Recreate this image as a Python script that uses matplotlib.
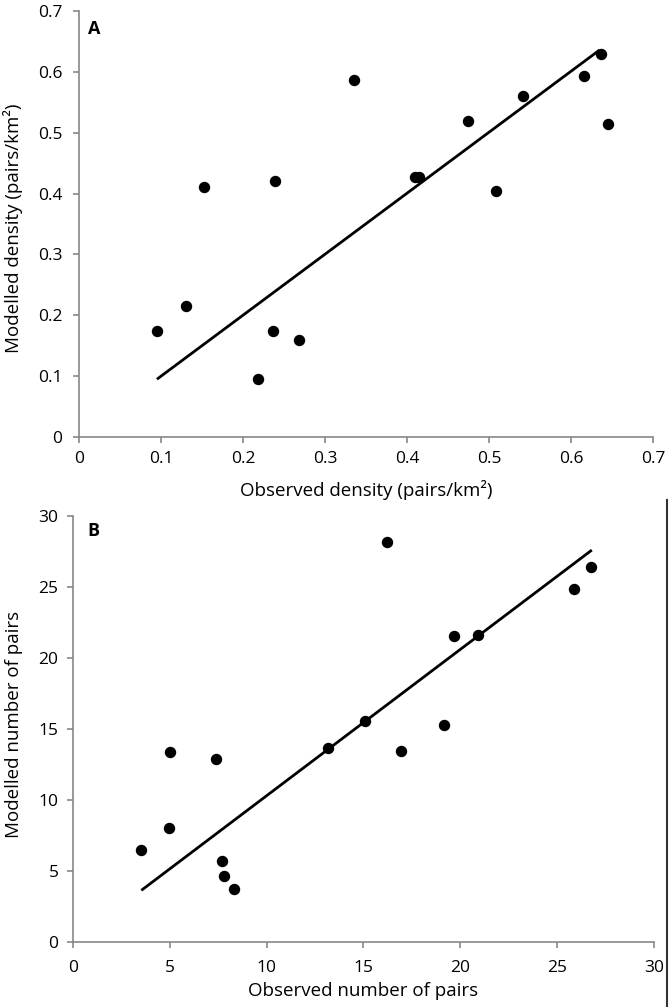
# Observed vs modelled density / number of pairs (panels A and B)

import matplotlib.pyplot as plt
from matplotlib.lines import Line2D

plt.rcParams['font.family'] = ['Open Sans', 'DejaVu Sans']

# Panel A: density (pairs/km2)
obs_density = [0.095, 0.131, 0.153, 0.218, 0.237, 0.239, 0.268, 0.335,
               0.410, 0.415, 0.474, 0.509, 0.541, 0.616, 0.636, 0.645]
mod_density = [0.174, 0.215, 0.410, 0.096, 0.175, 0.421, 0.160, 0.587,
               0.428, 0.428, 0.519, 0.404, 0.560, 0.593, 0.629, 0.514]
fit_a_x = [0.095, 0.635]
fit_a_y = [0.095, 0.636]

# Panel B: number of pairs
obs_pairs = [3.53, 4.96, 5.01, 7.37, 7.68, 7.80, 8.33, 13.15,
             15.09, 16.19, 16.93, 19.17, 19.69, 20.92, 25.85, 26.76]
mod_pairs = [6.48, 8.05, 13.40, 12.87, 5.70, 4.67, 3.73, 13.66,
             15.56, 28.19, 13.45, 15.28, 21.55, 21.64, 24.84, 26.41]
fit_b_x = [3.53, 26.79]
fit_b_y = [3.64, 27.60]

ticks_a = [0, 0.1, 0.2, 0.3, 0.4, 0.5, 0.6, 0.7]
tick_labels_a = ['0', '0.1', '0.2', '0.3', '0.4', '0.5', '0.6', '0.7']
ticks_b = [0, 5, 10, 15, 20, 25, 30]

AXIS_GREY = '#878787'

fig = plt.figure(figsize=(6.72, 10.07), dpi=100)
ax_a = fig.add_axes([0.1176, 0.5660, 0.8541, 0.4231])
ax_b = fig.add_axes([0.1086, 0.0645, 0.8646, 0.4231])


def style_axes(ax, xpad, ypad):
    for side in ['top', 'right']:
        ax.spines[side].set_visible(False)
    for side in ['left', 'bottom']:
        ax.spines[side].set_color(AXIS_GREY)
        ax.spines[side].set_linewidth(1.2)
    ax.tick_params(direction='out', length=4, width=1.2, color=AXIS_GREY,
                   labelsize=12.5, labelcolor='black')
    ax.tick_params(axis='x', pad=xpad)
    ax.tick_params(axis='y', pad=ypad)


# Panel A
ax_a.plot(fit_a_x, fit_a_y, color='black', lw=2.0, solid_capstyle='butt')
ax_a.plot(obs_density, mod_density, 'o', color='black', markersize=7.2)
ax_a.set_xlim(0, 0.7)
ax_a.set_ylim(0, 0.7)
ax_a.set_xticks(ticks_a, tick_labels_a)
ax_a.set_yticks(ticks_a, tick_labels_a)
style_axes(ax_a, 6, 8)
ax_a.set_xlabel('Observed density (pairs/km²)', fontsize=13.5)
ax_a.set_ylabel('Modelled density (pairs/km²)', fontsize=13.5)
ax_a.xaxis.set_label_coords(0.5, -0.101)
ax_a.yaxis.set_label_coords(-0.097, 0.49)
ax_a.text(0.016, 0.979, 'A', transform=ax_a.transAxes, fontsize=13,
          fontweight='bold', va='top', ha='left')

# Panel B
ax_b.plot(fit_b_x, fit_b_y, color='black', lw=2.0, solid_capstyle='butt')
ax_b.plot(obs_pairs, mod_pairs, 'o', color='black', markersize=7.2)
ax_b.set_xlim(0, 30)
ax_b.set_ylim(0, 30)
ax_b.set_xticks(ticks_b)
ax_b.set_yticks(ticks_b)
style_axes(ax_b, 9, 6.5)
ax_b.set_xlabel('Observed number of pairs', fontsize=13.5)
ax_b.set_ylabel('Modelled number of pairs', fontsize=13.5)
ax_b.xaxis.set_label_coords(0.5, -0.094)
ax_b.yaxis.set_label_coords(-0.086, 0.51)
ax_b.text(0.024, 0.986, 'B', transform=ax_b.transAxes, fontsize=13,
          fontweight='bold', va='top', ha='left')

# dark border line at the right of the lower panel
fig.add_artist(Line2D([666.5 / 672, 666.5 / 672], [0, 1 - 500 / 1007],
                      transform=fig.transFigure, color='#333333', lw=1.5))

fig.savefig('out.png', dpi=100)
